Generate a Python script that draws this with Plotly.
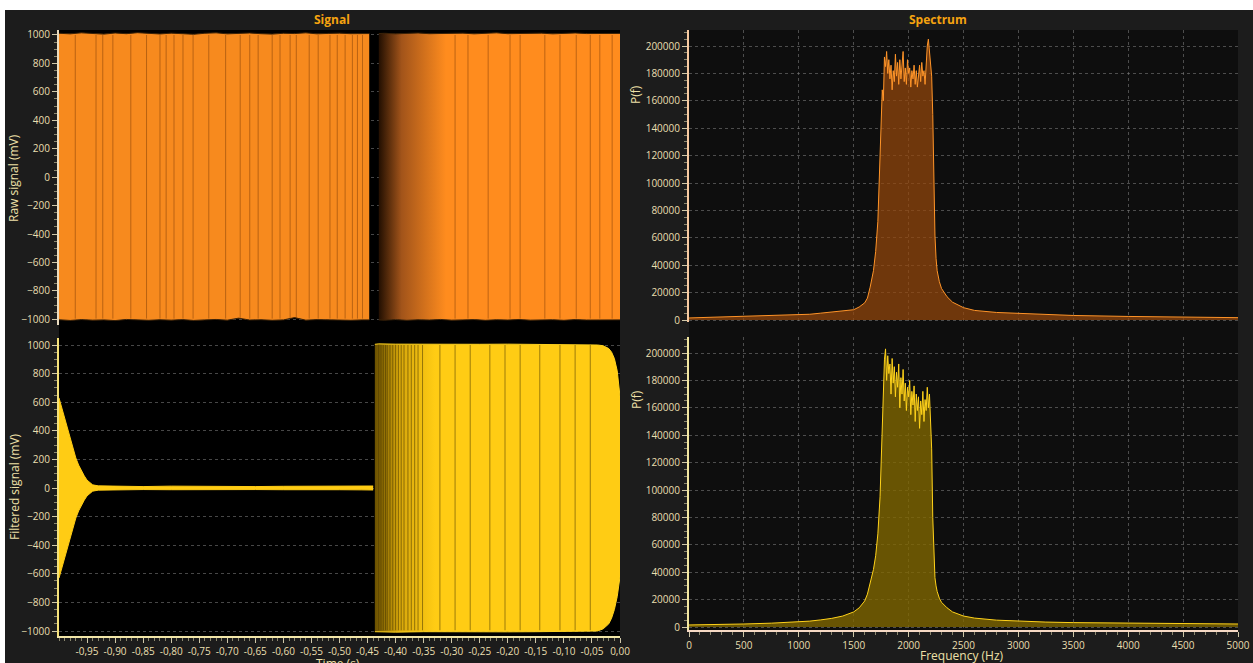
import plotly.graph_objects as go

W, H = 1253, 663

# ---------------- DATA ----------------
# Raw signal: envelope of the dense oscillation (mV)
raw_time_a = [-1.00, -0.98, -0.96, -0.94, -0.92, -0.90, -0.88, -0.86, -0.84, -0.82,
              -0.80, -0.78, -0.76, -0.74, -0.72, -0.70, -0.68, -0.66, -0.64, -0.62,
              -0.60, -0.58, -0.56, -0.54, -0.52, -0.50, -0.48, -0.46, -0.447]
raw_upper_a = [1012, 1008, 1015, 1010, 1006, 1014, 1009, 1016, 1011, 1007,
               1013, 1010, 1005, 1012, 1015, 1008, 1011, 1014, 1009, 1006,
               1012, 1010, 1015, 1008, 1011, 1013, 1009, 1012, 1010]
raw_lower_a = [-1003, -1008, -1002, -1006, -1004, -1009, -1001, -1005, -1007, -1003,
               -1006, -1002, -1008, -1004, -1001, -1006, -992, -1005, -1003, -1007,
               -1004, -988, -1006, -1002, -1005, -1003, -1007, -1004, -1004]

raw_time_b = [-0.430, -0.42, -0.40, -0.38, -0.36, -0.34, -0.32, -0.30, -0.28, -0.26,
              -0.24, -0.22, -0.20, -0.18, -0.16, -0.14, -0.12, -0.10, -0.08, -0.06,
              -0.04, -0.02, 0.00]
raw_upper_b = [1010, 1012, 1008, 1011, 1014, 1009, 1012, 1010, 1013, 1008,
               1011, 1015, 1009, 1012, 1010, 1013, 1008, 1011, 1014, 1010,
               1012, 1009, 1011]
raw_lower_b = [-1004, -1006, -1002, -1007, -1003, -1005, -1001, -1006, -1004, -1002,
               -1007, -1003, -1005, -1001, -1006, -1004, -1003, -1007, -1002, -1005,
               -1003, -1006, -1004]

# darker vertical streaks visible inside the raw band (s)
raw_streak_times = [-0.971, -0.934, -0.922, -0.904, -0.872, -0.844, -0.820, -0.809, -0.795,
                    -0.779, -0.761, -0.733, -0.703, -0.677, -0.660, -0.645, -0.620, -0.606,
                    -0.588, -0.577, -0.554, -0.538, -0.517, -0.504, -0.490, -0.477, -0.468,
                    -0.459, -0.294, -0.271, -0.235, -0.196, -0.178, -0.134, -0.107, -0.078,
                    -0.053, -0.036, -0.014]

# Filtered signal envelope (mV)
filt_time_a = [-1.000, -0.995, -0.990, -0.985, -0.980, -0.975, -0.970, -0.965, -0.960,
               -0.955, -0.950, -0.945, -0.940, -0.930, -0.900, -0.850, -0.800, -0.750,
               -0.700, -0.650, -0.600, -0.550, -0.500, -0.460, -0.440]
filt_upper_a = [630, 560, 490, 410, 340, 270, 210, 160, 120, 85, 55, 35, 22, 15,
                12, 10, 13, 11, 12, 10, 12, 11, 13, 12, 14]
filt_lower_a = [-630, -560, -490, -410, -340, -270, -210, -160, -120, -85, -55, -35,
                -22, -15, -12, -11, -12, -10, -13, -11, -12, -10, -12, -13, -14]

filt_time_b = [-0.437, -0.43, -0.40, -0.35, -0.30, -0.25, -0.20, -0.15, -0.10, -0.06,
               -0.04, -0.03, -0.02, -0.015, -0.010, -0.005, 0.000]
filt_upper_b = [1005, 1008, 1006, 1004, 1007, 1005, 1006, 1004, 1005, 1003,
                1000, 995, 975, 950, 905, 820, 640]
filt_lower_b = [-1005, -1006, -1008, -1005, -1007, -1004, -1006, -1005, -1004, -1003,
                -1000, -985, -950, -910, -850, -760, -620]

filt_streak_times = [-0.430, -0.426, -0.422, -0.418, -0.415, -0.410, -0.405, -0.400,
                     -0.395, -0.390, -0.385, -0.378, -0.372, -0.366, -0.360, -0.352,
                     -0.321, -0.294, -0.267, -0.232, -0.205, -0.178, -0.143, -0.107,
                     -0.080, -0.053]

# Spectrum of raw signal: P(f)
spec_freq_raw = [0, 100, 250, 500, 750, 1000, 1100, 1200, 1300, 1400, 1500, 1550, 1600,
                 1625, 1650, 1680, 1700, 1720, 1740, 1750, 1760,
                 1770, 1780, 1790, 1800, 1810, 1820, 1830, 1840, 1850, 1860,
                 1870, 1880, 1890, 1900, 1910, 1920, 1930, 1940, 1950, 1960,
                 1970, 1980, 1990, 2000, 2010, 2020, 2030, 2040, 2050, 2060,
                 2070, 2080, 2090, 2100, 2110, 2120, 2130, 2140, 2150, 2160,
                 2170, 2180, 2190, 2200, 2210, 2220, 2230,
                 2240, 2250, 2260, 2280, 2300, 2350, 2400, 2500, 2600, 2800,
                 3000, 3250, 3500, 4000, 4500, 5000]
spec_pow_raw = [1500, 1700, 2000, 2600, 3000, 3600, 4200, 5000, 5800, 6500, 7500, 9500, 12500,
                16000, 24000, 36000, 50000, 72000, 115000, 145000, 168000,
                160000, 192000, 185000, 196000, 180000, 190000, 176000, 186000, 168000, 182000,
                174000, 194000, 178000, 188000, 172000, 190000, 176000, 185000, 196000, 174000,
                184000, 172000, 190000, 180000, 184000, 170000, 182000, 176000, 186000, 172000,
                182000, 170000, 180000, 186000, 174000, 188000, 178000, 182000, 172000, 190000,
                200000, 205000, 196000, 186000, 178000, 150000, 100000,
                62000, 45000, 36000, 28000, 23000, 17000, 13000, 9000, 7000, 5500,
                4800, 4000, 3300, 2600, 2000, 1700]

# Spectrum of filtered signal: P(f)
spec_freq_filt = [0, 100, 250, 500, 750, 1000, 1100, 1200, 1300, 1400, 1500, 1550, 1600,
                  1625, 1650, 1680, 1700, 1720, 1740, 1750, 1760,
                  1770, 1780, 1790, 1800, 1810, 1820, 1830, 1840, 1850, 1860,
                  1870, 1880, 1890, 1900, 1910, 1920, 1930, 1940, 1950, 1960,
                  1970, 1980, 1990, 2000, 2010, 2020, 2030, 2040, 2050, 2060,
                  2070, 2080, 2090, 2100, 2110, 2120, 2130, 2140, 2150, 2160,
                  2170, 2180, 2190, 2200, 2210, 2220, 2230,
                  2240, 2250, 2260, 2280, 2300, 2350, 2400, 2500, 2600, 2800,
                  3000, 3250, 3500, 4000, 4500, 5000]
spec_pow_filt = [1500, 1600, 1800, 2200, 2800, 3600, 4300, 5200, 6300, 8000, 11000, 14000, 19000,
                 24000, 32000, 42000, 52000, 68000, 95000, 125000, 150000,
                 168000, 195000, 203000, 180000, 198000, 185000, 192000, 170000, 196000, 178000,
                 190000, 168000, 186000, 175000, 192000, 160000, 182000, 170000, 188000, 165000,
                 178000, 158000, 175000, 168000, 180000, 155000, 172000, 162000, 176000, 150000,
                 170000, 158000, 168000, 145000, 165000, 155000, 172000, 150000, 166000, 158000,
                 175000, 160000, 170000, 150000, 130000, 80000, 50000,
                 36000, 30000, 26000, 21000, 18000, 14000, 11000, 8000, 6500, 5000,
                 4200, 3600, 3200, 2800, 2500, 2200]

time_ticks = [-0.95, -0.90, -0.85, -0.80, -0.75, -0.70, -0.65, -0.60, -0.55, -0.50,
              -0.45, -0.40, -0.35, -0.30, -0.25, -0.20, -0.15, -0.10, -0.05, 0.00]
time_tick_text = ["-0,95", "-0,90", "-0,85", "-0,80", "-0,75", "-0,70", "-0,65", "-0,60",
                  "-0,55", "-0,50", "-0,45", "-0,40", "-0,35", "-0,30", "-0,25", "-0,20",
                  "-0,15", "-0,10", "-0,05", "0,00"]

# ---------------- STYLE / LAYOUT HELPERS ----------------
def px_x(p):
    return p / W


def px_y(p):
    return 1 - p / H


YELLOW = "#ffcc14"
TICK_FONT = dict(family="Open Sans, Noto Sans, sans-serif", size=10, color="#eadfb0")
TITLE_COLOR = "#f5a310"
LABEL_COLOR = "#eee0a8"

fig = go.Figure()


def band(t, up, lo, xa, ya, fill, line_col, grad=None):
    fig.add_trace(go.Scatter(x=t, y=lo, xaxis=xa, yaxis=ya, mode="lines",
                             line=dict(color=line_col, width=1), hoverinfo="skip",
                             showlegend=False))
    kw = dict(fillcolor=fill)
    if grad is not None:
        kw = dict(fillgradient=grad)
    fig.add_trace(go.Scatter(x=t, y=up, xaxis=xa, yaxis=ya, mode="lines", fill="tonexty",
                             line=dict(color=line_col, width=1), hoverinfo="skip",
                             showlegend=False, **kw))


def streaks(times, lo, hi, xa, ya, color, width):
    xs, ys = [], []
    for t in times:
        xs += [t, t, None]
        ys += [lo, hi, None]
    fig.add_trace(go.Scatter(x=xs, y=ys, xaxis=xa, yaxis=ya, mode="lines",
                             line=dict(color=color, width=width), hoverinfo="skip",
                             showlegend=False))


# Raw signal
band(raw_time_a, raw_upper_a, raw_lower_a, "x", "y", "#f78a1e", "#3a2208")
band(raw_time_b, raw_upper_b, raw_lower_b, "x", "y", "#f78a1e", "#3a2208",
     grad=dict(type="horizontal", start=-0.432, stop=-0.31,
               colorscale=[[0, "#1c0c00"], [0.35, "#a2541a"], [1, "#ff8c1e"]]))
streaks(raw_streak_times, -995, 1000, "x", "y", "rgba(110,50,5,0.45)", 1)

# Filtered signal
band(filt_time_a, filt_upper_a, filt_lower_a, "x2", "y2", YELLOW, YELLOW)
band(filt_time_b, filt_upper_b, filt_lower_b, "x2", "y2", YELLOW, "#ffd21e",
     grad=dict(type="horizontal", start=-0.437, stop=-0.33,
               colorscale=[[0, "#6a5000"], [0.4, "#d6a60a"], [1, "#ffcc14"]]))
streaks(filt_streak_times, -995, 1000, "x2", "y2", "rgba(60,45,0,0.5)", 1)

# Spectra
fig.add_trace(go.Scatter(x=spec_freq_raw, y=spec_pow_raw, xaxis="x3", yaxis="y3",
                         mode="lines", fill="tozeroy", fillcolor="rgba(150,72,12,0.72)",
                         line=dict(color="#ff9428", width=1), showlegend=False,
                         hoverinfo="skip"))
fig.add_trace(go.Scatter(x=spec_freq_filt, y=spec_pow_filt, xaxis="x4", yaxis="y4",
                         mode="lines", fill="tozeroy", fillcolor="rgba(130,104,0,0.78)",
                         line=dict(color="#ffd21a", width=1), showlegend=False,
                         hoverinfo="skip"))

# domains (pixel based)
sig_x = [px_x(59), px_x(620)]
spec_x = [px_x(689), px_x(1238)]
sig_top_y = [px_y(325), px_y(30)]
sig_bot_y = [px_y(636), px_y(338)]
spec_top_y = [px_y(322), px_y(30)]
spec_bot_y = [px_y(630), px_y(337)]

GRID = "rgba(130,130,130,0.55)"


def yaxis_common(rng, dom, anchor, linecol, dtick):
    return dict(domain=dom, range=rng, anchor=anchor, showline=True, linecolor=linecol,
                linewidth=2, ticks="outside", ticklen=5, tickcolor="#cfc7a8",
                tickfont=TICK_FONT, dtick=dtick, tick0=0, showgrid=True,
                gridcolor=GRID, griddash="dot", gridwidth=1, zeroline=False,
                automargin=False,
                minor=dict(ticks="outside", ticklen=3, tickcolor="#8a866e", nticks=5,
                           showgrid=False),
                fixedrange=True)


layout = dict(
    width=W, height=H, margin=dict(l=0, r=0, t=0, b=0, pad=0), autosize=False,
    paper_bgcolor="#1c1c1c", plot_bgcolor="rgba(0,0,0,0)",
    showlegend=False,
    xaxis=dict(domain=sig_x, range=[-1.0, 0.0], anchor="y", showticklabels=False,
               showgrid=False, zeroline=False, showline=False, ticks="", automargin=False),
    yaxis=yaxis_common([-1040, 1035], sig_top_y, "x", "#eadcc0", 200),
    xaxis2=dict(domain=sig_x, range=[-1.0, 0.0], anchor="y2", tickvals=time_ticks,
                ticktext=time_tick_text, tickfont=TICK_FONT, ticks="outside", ticklen=5,
                tickcolor="#cfc7a8", showline=True, linecolor="#f2e6a8", linewidth=2,
                showgrid=False, zeroline=False, automargin=False,
                minor=dict(ticks="outside", ticklen=3, tickcolor="#8a866e",
                           dtick=0.01, tick0=0),
                fixedrange=True),
    yaxis2=yaxis_common([-1035, 1049], sig_bot_y, "x2", "#f5e17a", 200),
    xaxis3=dict(domain=spec_x, range=[0, 5000], anchor="y3", showticklabels=False,
                showgrid=True, gridcolor=GRID, griddash="dot", dtick=500, tick0=0,
                zeroline=False, showline=False, ticks="", automargin=False),
    yaxis3=yaxis_common([-1460, 211680], spec_top_y, "x3", "#f7c9a0", 20000),
    xaxis4=dict(domain=spec_x, range=[0, 5000], anchor="y4", dtick=500, tick0=0,
                tickfont=TICK_FONT, ticks="outside", ticklen=5, tickcolor="#cfc7a8",
                showline=True, linecolor="#f6d8c4", linewidth=2,
                showgrid=True, gridcolor=GRID, griddash="dot", zeroline=False,
                automargin=False,
                minor=dict(ticks="outside", ticklen=3, tickcolor="#8a866e", nticks=5),
                fixedrange=True),
    yaxis4=yaxis_common([-2190, 211680], spec_bot_y, "x4", "#f2e6a0", 20000),
)
fig.update_layout(**layout)
fig.update_yaxes(tickformat="d")

# backgrounds of the plot areas
fig.add_shape(type="rect", xref="paper", yref="paper", x0=sig_x[0], x1=sig_x[1],
              y0=px_y(636), y1=px_y(30), fillcolor="#000000", line_width=0, layer="below")
fig.add_shape(type="rect", xref="paper", yref="paper", x0=spec_x[0], x1=spec_x[1],
              y0=px_y(630), y1=px_y(30), fillcolor="#0e0e0e", line_width=0, layer="below")
# white frame outside the chart (top strip and left strip)
fig.add_shape(type="rect", xref="paper", yref="paper", x0=0, x1=1, y0=px_y(10), y1=1,
              fillcolor="#ffffff", line_width=0, layer="above")
fig.add_shape(type="rect", xref="paper", yref="paper", x0=0, x1=px_x(5), y0=0, y1=1,
              fillcolor="#ffffff", line_width=0, layer="above")

ann_font = dict(family="Open Sans, Noto Sans, sans-serif", size=12, color=LABEL_COLOR)
title_font = dict(family="Open Sans, Noto Sans, sans-serif", size=12, color=TITLE_COLOR)
annotations = [
    dict(text="<b>Signal</b>", x=px_x(332), y=px_y(19), font=title_font),
    dict(text="<b>Spectrum</b>", x=px_x(938), y=px_y(19), font=title_font),
    dict(text="Raw signal (mV)", x=px_x(14), y=px_y(178), textangle=-90, font=ann_font),
    dict(text="Filtered signal (mV)", x=px_x(14), y=px_y(487), textangle=-90, font=ann_font),
    dict(text="P(f)", x=px_x(636), y=px_y(95), textangle=-90, font=ann_font),
    dict(text="P(f)", x=px_x(636), y=px_y(400), textangle=-90, font=ann_font),
    dict(text="Time (s)", x=px_x(338), y=px_y(663), font=ann_font),
    dict(text="Frequency (Hz)", x=px_x(962), y=px_y(655), font=ann_font),
]
for a in annotations:
    a.setdefault("yanchor", "middle")
    fig.add_annotation(xref="paper", yref="paper", showarrow=False,
                       xanchor="center", **a)

fig.write_html("out.html", config={"displayModeBar": False},
               post_script="document.body.style.margin='0';"
                           "document.body.style.overflow='hidden';")
